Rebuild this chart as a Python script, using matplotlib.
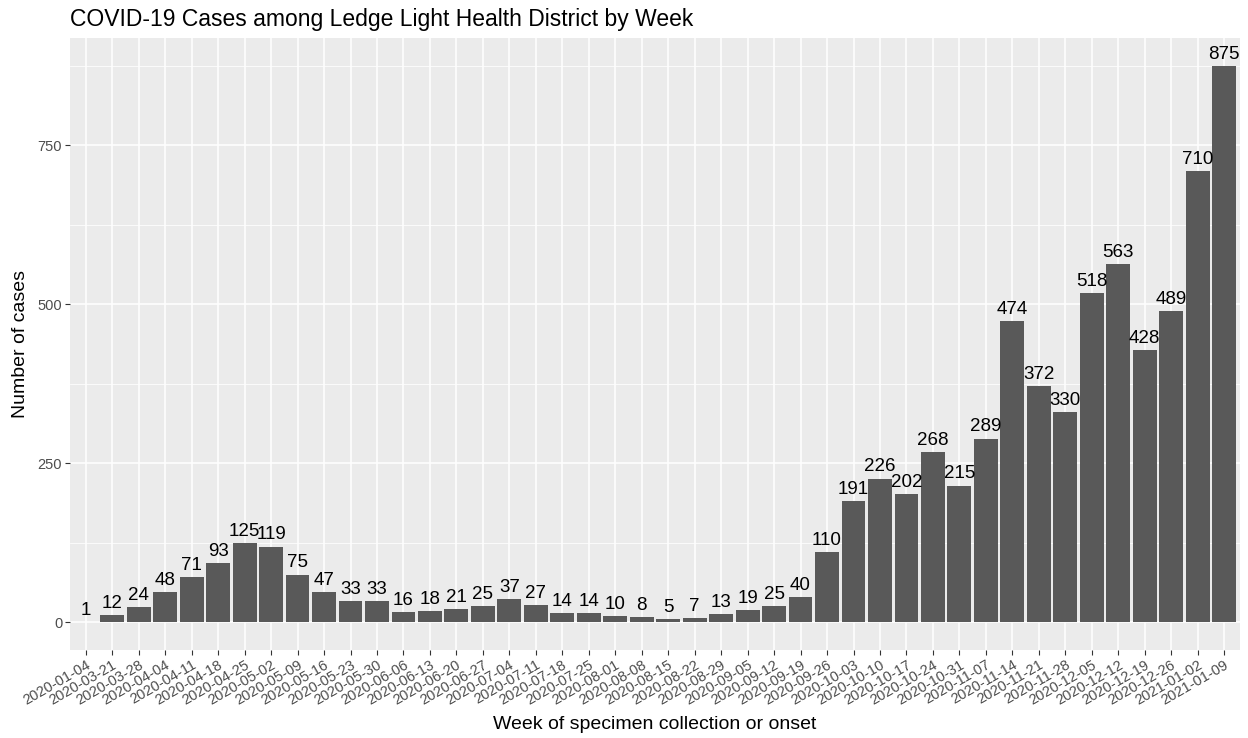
import matplotlib.pyplot as plt
import numpy as np

plt.rcParams['font.family'] = ['Liberation Sans', 'DejaVu Sans']

weeks = ["2020-01-04", "2020-03-21", "2020-03-28", "2020-04-04", "2020-04-11",
         "2020-04-18", "2020-04-25", "2020-05-02", "2020-05-09", "2020-05-16",
         "2020-05-23", "2020-05-30", "2020-06-06", "2020-06-13", "2020-06-20",
         "2020-06-27", "2020-07-04", "2020-07-11", "2020-07-18", "2020-07-25",
         "2020-08-01", "2020-08-08", "2020-08-15", "2020-08-22", "2020-08-29",
         "2020-09-05", "2020-09-12", "2020-09-19", "2020-09-26", "2020-10-03",
         "2020-10-10", "2020-10-17", "2020-10-24", "2020-10-31", "2020-11-07",
         "2020-11-14", "2020-11-21", "2020-11-28", "2020-12-05", "2020-12-12",
         "2020-12-19", "2020-12-26", "2021-01-02", "2021-01-09"]
cases = [1, 12, 24, 48, 71, 93, 125, 119, 75, 47, 33, 33, 16, 18, 21, 25, 37, 27,
         14, 14, 10, 8, 5, 7, 13, 19, 25, 40, 110, 191, 226, 202, 268, 215, 289,
         474, 372, 330, 518, 563, 428, 489, 710, 875]

fig = plt.figure(figsize=(12.48, 7.38), dpi=100)
ax = fig.add_axes([0.056, 0.119, 0.9376, 0.8295])
ax.set_facecolor('#EBEBEB')

x = np.arange(len(weeks))
ax.bar(x, cases, width=0.9, color='#595959', zorder=3)
for xi, v in zip(x, cases):
    ax.text(xi, v + 5, str(v), ha='center', va='bottom', fontsize=13.5, color='black', zorder=4)

top = max(cases) * 1.05
ax.set_xlim(-0.6, len(weeks) - 0.4)
ax.set_ylim(-max(cases) * 0.05, top)

ax.set_yticks([0, 250, 500, 750])
ax.set_yticks([125, 375, 625, 875], minor=True)
ax.set_xticks(x)
ax.set_xticklabels(weeks, rotation=30, ha='right', rotation_mode='anchor')

ax.grid(True, which='major', color='white', linewidth=1.1, zorder=0)
ax.grid(True, which='minor', axis='y', color='white', linewidth=0.55, zorder=0)
ax.tick_params(axis='both', which='major', length=3.5, width=0.8, color='#333333',
               labelsize=10.5, labelcolor='#4D4D4D', pad=2)
ax.tick_params(axis='y', which='minor', length=0)
for s in ax.spines.values():
    s.set_visible(False)

ax.set_xlabel('Week of specimen collection or onset', fontsize=14, labelpad=6)
ax.set_ylabel('Number of cases', fontsize=14, labelpad=6)
ax.set_title('COVID-19 Cases among Ledge Light Health District by Week', fontsize=16.5,
             loc='left', pad=9)

fig.savefig('out.png', dpi=100)
